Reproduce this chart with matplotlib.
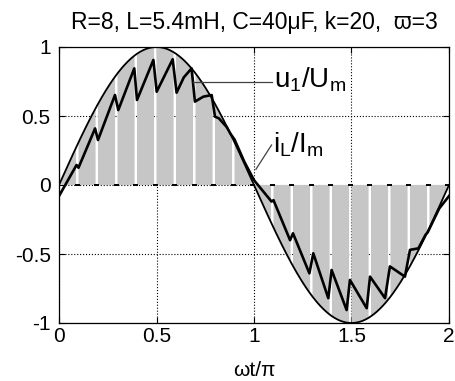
import numpy as np
import matplotlib
matplotlib.use('Agg')
import matplotlib.pyplot as plt

plt.rcParams['font.family'] = ['Liberation Sans', 'DejaVu Sans']
plt.rcParams['mathtext.fontset'] = 'custom'
plt.rcParams['mathtext.rm'] = 'Liberation Sans'
plt.rcParams['mathtext.it'] = 'Liberation Sans'
plt.rcParams['mathtext.bf'] = 'Liberation Sans'

# ---- data ----
title = 'R=8, L=5.4mH, C=40\u03bcF, k=20,  \u03d6=3'
k_pulses = 20
gap_width = 0.012
u_amplitude = 1.0
xticks = [0, 0.5, 1, 1.5, 2]
xticklabels = ['0', '0.5', '1', '1.5', '2']
yticks = [-1, -0.5, 0, 0.5, 1]
yticklabels = ['-1', '-0.5', '0', '0.5', '1']

iL_x = [0.0, 0.09, 0.10, 0.185, 0.20, 0.287, 0.304, 0.386, 0.40, 0.484, 0.501,
        0.583, 0.603, 0.64, 0.68, 0.697, 0.74, 0.783, 0.80, 0.82, 0.86, 0.88,
        0.90, 0.95, 1.0, 1.09, 1.10, 1.185, 1.20, 1.284, 1.304, 1.381, 1.398,
        1.475, 1.492, 1.578, 1.595, 1.672, 1.697, 1.774, 1.80, 1.843, 1.88,
        1.89, 1.95, 2.0]
iL_y = [-0.08, 0.145, 0.125, 0.41, 0.326, 0.652, 0.543, 0.845, 0.616, 0.906, 0.676,
        0.911, 0.669, 0.78, 0.845, 0.604, 0.64, 0.652, 0.495, 0.483, 0.42, 0.37,
        0.33, 0.17, 0.035, -0.12, -0.11, -0.40, -0.35, -0.64, -0.495, -0.82, -0.616,
        -0.906, -0.688, -0.893, -0.664, -0.82, -0.59, -0.664, -0.47, -0.459, -0.36,
        -0.345, -0.17, -0.08]

u_label = r'$\mathrm{u_1/U_m}$'
i_label = r'$\mathrm{i_L/I_m}$'
xlabel = '\u03c9t/\u03c0'

# ---- figure ----
fig = plt.figure(figsize=(4.56, 3.81), dpi=100)
ax = fig.add_axes([59/456, 1-323/381, 390/456, 276/381])

x = np.linspace(0, 2, 4001)
u = u_amplitude * np.sin(np.pi * x)
period = 2.0 / k_pulses
phase = np.mod(x + 1e-9, period)
on = phase < period - gap_width

ax.set_axisbelow(True)
ax.grid(True, linestyle=':', color='k', linewidth=0.8)
ax.fill_between(x, 0, u, where=on, color='#c6c6c6', linewidth=0, zorder=1)

gap_centers = np.arange(k_pulses) * period + period - gap_width / 2
for c in gap_centers:
    ax.plot([c - 0.013, c + 0.013], [0, 0], color='k', lw=1.4, zorder=2,
            solid_capstyle='butt')

ax.plot(x, u, color='k', lw=1.3, zorder=3)
ax.plot(iL_x, iL_y, color='k', lw=1.9, zorder=4)

# annotations
ax.plot([0.687, 1.09], [0.749, 0.749], color='#404040', lw=0.9, zorder=5)
ax.text(1.10, 0.76, u_label, fontsize=20, va='center', ha='left', zorder=6)
ax.plot([1.01, 1.09], [0.114, 0.29], color='#404040', lw=0.9, zorder=5)
ax.text(1.095, 0.29, i_label, fontsize=20, va='center', ha='left', zorder=6)

ax.set_xlim(0, 2)
ax.set_ylim(-1, 1)
ax.set_xticks(xticks)
ax.set_xticklabels(xticklabels, fontsize=15)
ax.set_yticks(yticks)
ax.set_yticklabels(yticklabels, fontsize=15)
ax.tick_params(axis='both', direction='in', length=4, width=0.8,
               top=True, right=True)
ax.tick_params(axis='x', pad=3)
ax.tick_params(axis='y', pad=6)
for s in ax.spines.values():
    s.set_linewidth(0.9)
    s.set_color('k')

fig.text(254/456, 1 - 28.5/381, title, fontsize=16.5, ha='center', va='baseline')
fig.text(254/456, 1 - 376/381, xlabel, fontsize=15, ha='center', va='baseline')

fig.savefig('out.png', dpi=100)
